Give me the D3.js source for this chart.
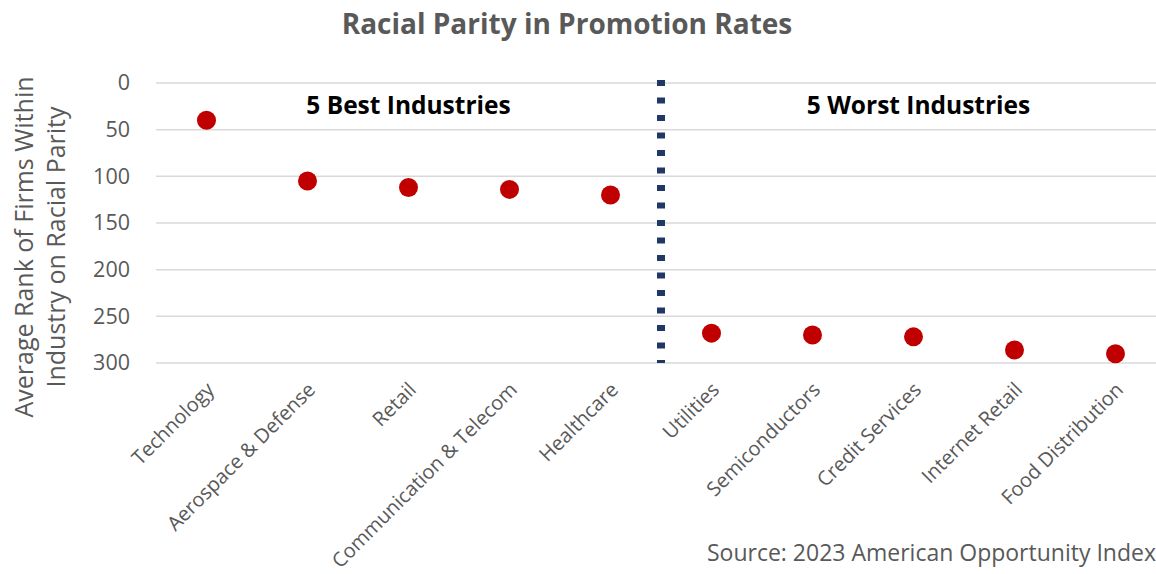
<!DOCTYPE html>
<html>
<head>
<meta charset="utf-8">
<script src="https://cdn.jsdelivr.net/npm/d3@7"></script>
<style>
  body { margin: 0; background: #fff; }
  text { font-family: "Open Sans", "Noto Sans", sans-serif; }
</style>
</head>
<body>
<div id="chart"></div>
<script>
// Data
const industries = ["Technology", "Aerospace & Defense", "Retail", "Communication & Telecom", "Healthcare",
  "Utilities", "Semiconductors", "Credit Services", "Internet Retail", "Food Distribution"];
const avgRank = [40, 105, 112, 114, 120, 268, 270, 272, 286, 290];
const yTicks = [0, 50, 100, 150, 200, 250, 300];
const groupLabels = ["5 Best Industries", "5 Worst Industries"];

const W = 1156, H = 574;
const margin = {top: 83, right: -10, bottom: 211, left: 156};

const svg = d3.select("#chart")
  .append("svg")
  .attr("width", W)
  .attr("height", H);

// Scales
const x = d3.scaleBand()
  .domain(industries)
  .range([margin.left, W - margin.right]);
const y = d3.scaleLinear()
  .domain([0, 300])
  .range([margin.top, H - margin.bottom]);

// Gridlines
svg.append("g")
  .selectAll("line")
  .data(yTicks)
  .join("line")
  .attr("x1", margin.left)
  .attr("x2", W)
  .attr("y1", d => y(d))
  .attr("y2", d => y(d))
  .attr("stroke", "#d9d9d9")
  .attr("stroke-width", 1.5);

// Y axis labels
const yAxis = svg.append("g")
  .attr("transform", `translate(${margin.left - 26},0)`)
  .call(d3.axisLeft(y).tickValues(yTicks).tickSize(0).tickPadding(0));
yAxis.select(".domain").remove();
yAxis.selectAll("text")
  .attr("fill", "#595959")
  .style("font-size", "21.5px")
  .style("font-family", "'Open Sans', sans-serif");

// X axis labels
const xAxis = svg.append("g")
  .attr("transform", `translate(0,${y(300)})`)
  .call(d3.axisBottom(x).tickSize(0).tickPadding(0));
xAxis.select(".domain").remove();
xAxis.selectAll("text")
  .attr("fill", "#595959")
  .style("font-size", "20px")
  .style("font-family", "'Open Sans', sans-serif")
  .attr("text-anchor", "end")
  .attr("transform", "translate(4,23) rotate(-45)")
  .attr("dy", "0.35em");

// Divider between best and worst
const midX = (x(industries[4]) + x(industries[5]) + x.bandwidth()) / 2;
svg.append("line")
  .attr("x1", midX).attr("x2", midX)
  .attr("y1", y(0) - 3).attr("y2", y(300))
  .attr("stroke", "#203864")
  .attr("stroke-width", 8)
  .attr("stroke-dasharray", "6 11.5");

// Group labels
svg.append("g")
  .selectAll("text")
  .data(groupLabels)
  .join("text")
  .attr("x", (d, i) => x(industries[i === 0 ? 2 : 7]) + x.bandwidth() / 2 + (i === 0 ? 0 : 5))
  .attr("y", 114)
  .attr("text-anchor", "middle")
  .attr("font-weight", "bold")
  .attr("fill", "#000")
  .style("font-size", "24.5px")
  .text(d => d);

// Dots
svg.append("g")
  .selectAll("circle")
  .data(industries)
  .join("circle")
  .attr("cx", d => x(d) + x.bandwidth() / 2)
  .attr("cy", (d, i) => y(avgRank[i]))
  .attr("r", 9.5)
  .attr("fill", "#c00000");

// Title
svg.append("text")
  .attr("x", 567)
  .attr("y", 34)
  .attr("text-anchor", "middle")
  .attr("font-weight", "bold")
  .attr("fill", "#595959")
  .style("font-size", "28px")
  .text("Racial Parity in Promotion Rates");

// Y axis title
const yTitle = svg.append("text")
  .attr("transform", "translate(24,247) rotate(-90)")
  .attr("text-anchor", "middle")
  .attr("fill", "#595959")
  .style("font-size", "25px");
yTitle.append("tspan").attr("x", 0).attr("dy", "0.35em").text("Average Rank of Firms Within");
yTitle.append("tspan").attr("x", 0).attr("dy", "1.28em").text("Industry on Racial Parity");

// Source
svg.append("text")
  .attr("x", 1156)
  .attr("y", 561)
  .attr("text-anchor", "end")
  .attr("fill", "#595959")
  .style("font-size", "23px")
  .text("Source: 2023 American Opportunity Index");
</script>
</body>
</html>
